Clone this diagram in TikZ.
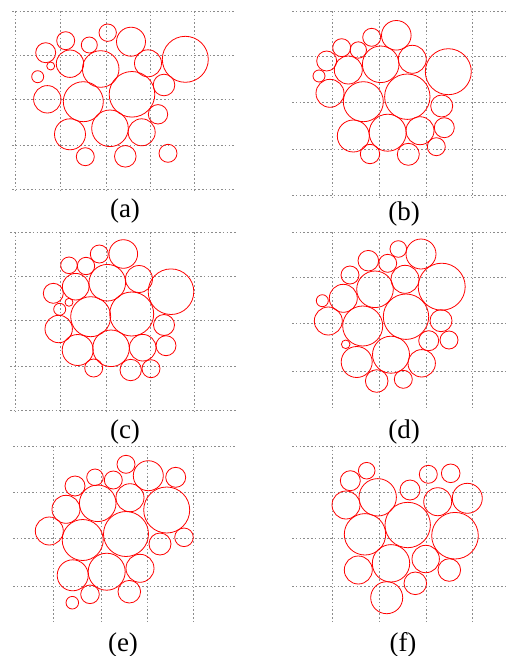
\documentclass[tikz,border=0pt]{standalone}
\usepackage{fontspec}
\setmainfont{Liberation Serif}
\begin{document}
\begin{tikzpicture}[x=1pt,y=-1pt,
  gridline/.style={draw=black!45,line width=0.6pt,dash pattern=on 1.6pt off 2.2pt},
  bub/.style={draw=red,line width=0.8pt},
  lab/.style={font=\fontsize{27}{30}\selectfont,inner sep=0pt}]
\useasboundingbox (0,0) rectangle (508,656);
% ---------- grids ----------
% (a)
\foreach \y in {11,55,99,145,189} \draw[gridline] (12,\y) -- (236,\y);
\foreach \x in {15,60,106,150,194} \draw[gridline] (\x,11) -- (\x,192);
% (b)
\foreach \y in {11,56,102,149,195} \draw[gridline] (292,\y) -- (508,\y);
\foreach \x in {332,379,426,472} \draw[gridline] (\x,11) -- (\x,198);
% (c)
\foreach \y in {232,276,320,366,410} \draw[gridline] (10,\y) -- (236,\y);
\foreach \x in {15,60,106,150,194} \draw[gridline] (\x,232) -- (\x,413);
% (d)
\foreach \y in {232,277,323,371} \draw[gridline] (292,\y) -- (508,\y);
\foreach \x in {332,379,426,472} \draw[gridline] (\x,232) -- (\x,408);
% (e)
\foreach \y in {446,492,538,586} \draw[gridline] (13,\y) -- (236,\y);
\foreach \x in {53,101,147,193} \draw[gridline] (\x,446) -- (\x,623);
% (f)
\foreach \y in {446,492,538,586} \draw[gridline] (292,\y) -- (508,\y);
\foreach \x in {332,379,426,472} \draw[gridline] (\x,446) -- (\x,623);
% ---------- circles ----------
% (a)
\foreach \cx/\cy/\r in {45.7/52.7/10, 65.7/40.7/9, 89.3/45/8, 107.7/32.7/8.7, 131/41.7/14.5,
  185.3/59.3/23, 50.7/66/4, 70/63.7/13.7, 100.7/69/18.3, 148/63.3/13.5, 37.7/76.7/6,
  47.3/99.3/13.7, 83.3/101.7/20, 132/94.3/22.8, 164/85/10.8, 158/114.3/9.7,
  70/134.3/15.5, 110/128.3/18.3, 141.7/132.3/13.5, 85.3/156.7/9, 125.3/156.3/10.8, 168/153.3/9}
  \draw[bub] (\cx,\cy) circle[radius=\r pt];
% (b)
\foreach \cx/\cy/\r in {326.7/61/10, 319/76/6, 341.7/47.7/9, 358.3/50/8.2, 371.7/37.3/9,
  396.3/35.3/14.8, 348.3/70/14, 380.7/64.3/18.3, 412.3/59.3/14, 448.3/71.7/23,
  330/93.3/14, 363.3/101.7/20, 407.3/96.7/22.7, 441.7/106/11, 444.3/127.7/10,
  353.3/136/16, 387.7/132.7/18.5, 420/130.7/14, 436.3/146.7/9, 370/154/9.7, 408.3/154.3/11}
  \draw[bub] (\cx,\cy) circle[radius=\r pt];
% (c)
\foreach \cx/\cy/\r in {69/265.3/8.3, 86/266/8.7, 99.3/254/9, 123.3/254/14.3, 75.7/286.7/13.3,
  107.3/282.7/18.3, 139/279/13.5, 171/291.7/22.8, 53.3/293.3/10, 69/302.3/4, 59.7/309.3/6,
  90.7/316.7/20, 131.7/314/22, 58.7/329/13.7, 164/325/10.5, 77.7/350/15.5, 111/348.3/18.3,
  142.7/347.7/13.3, 166/345.7/10, 93.7/368/9, 130.7/370/10.7, 151/368.7/9}
  \draw[bub] (\cx,\cy) circle[radius=\r pt];
% (d)
\foreach \cx/\cy/\r in {398.3/249/8.3, 421/254/15, 368.3/260.7/10.3, 387.7/263.3/9, 350/275/9,
  405/279.3/14, 441.7/286.7/23.5, 375/289.3/18.3, 343.3/298.3/14, 322.3/300.7/6,
  406/316.7/22.7, 328.3/321/14, 362.7/326/20, 441/320.7/11, 428.7/340.7/10, 449/340/9,
  345.7/344.3/4.3, 356.7/362/15.5, 391/354.7/18.5, 421.7/363.3/13.7, 376.7/381/11.3, 403.3/379.3/9}
  \draw[bub] (\cx,\cy) circle[radius=\r pt];
% (e)
\foreach \cx/\cy/\r in {126/464.3/9, 148.3/475.7/15, 175.7/477.3/10, 95/477.3/8.3, 113.3/480/9,
  75/486/10, 97.7/503.3/18.3, 130/497.7/14, 166.7/510/23, 66/509.3/14, 49.3/531/14,
  82.7/540/20.5, 126/534/22.5, 160/544/11, 184/537.3/9.3, 72.7/575.3/15.5, 106.7/571.7/18.5,
  140/568.3/14, 90/594.3/9.3, 129.3/591.7/11.3, 72.3/602.7/6.3}
  \draw[bub] (\cx,\cy) circle[radius=\r pt];
% (f)
\foreach \cx/\cy/\r in {366.7/470.7/8.3, 350.3/480.7/10, 428.3/474.3/9, 450.7/473.3/9.3,
  410/490/10, 346/505/14, 377.7/497.3/18.7, 437.7/501.7/14, 467.3/498.3/15, 407.7/525/22.7,
  365/534.3/20.7, 455/535.7/23.3, 358.3/570/14, 391/563.3/18.7, 425.7/559/13.7,
  449.3/570/11.3, 415.3/583.3/11.3, 386.7/597.7/16}
  \draw[bub] (\cx,\cy) circle[radius=\r pt];
% ---------- labels ----------
\node[lab] (la) at (125,211) {(a)};
\node[lab] (lb) at (404,214) {(b)};
\node[lab] (lc) at (125,432) {(c)};
\node[lab] (ld) at (404,432) {(d)};
\node[lab] (le) at (123,645) {(e)};
\node[lab] (lf) at (403,645) {(f)};
\end{tikzpicture}
\end{document}
